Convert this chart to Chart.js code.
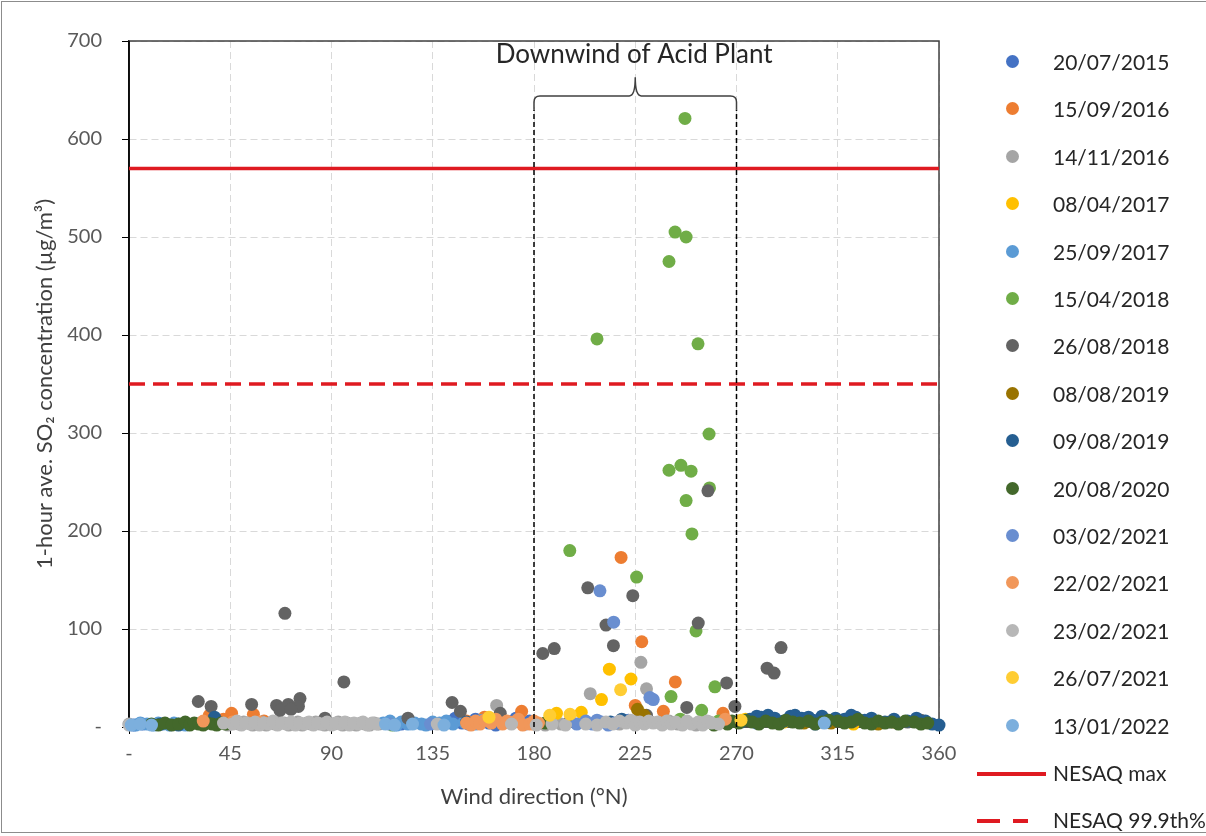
<!DOCTYPE html>
<html>
<head>
<meta charset="utf-8">
<title>SO2 vs wind direction</title>
<script src="https://cdn.jsdelivr.net/npm/chart.js@4.4.0/dist/chart.umd.min.js"></script>
<style>
  body { margin: 0; background: #fff; overflow: hidden; }
  #wrap { position: relative; width: 1206px; height: 836px; }
  #frame { position: absolute; left: 1px; top: 1px; width: 1240px; height: 832px; border: 1px solid #8c8c8c; box-sizing: border-box; pointer-events: none; }
  #legend { position: absolute; left: 970px; top: 0; width: 236px; height: 836px; font-family: Lato, sans-serif; font-size: 21px; color: #262626; }
  .item { position: absolute; left: 0; width: 236px; height: 24px; line-height: 24px; white-space: nowrap; }
  .dot { position: absolute; left: 36px; top: 5px; width: 13px; height: 13px; border-radius: 50%; }
  .txt { position: absolute; left: 83px; top: 0; }
  .item svg { position: absolute; left: 7px; top: 10px; }
</style>
</head>
<body>
<div id="wrap">
  <canvas id="chart" width="1206" height="836"></canvas>
  <div id="legend"></div>
  <div id="frame"></div>
</div>
<script>
// Series names and colours (Excel palette)
const seriesNames = ['20/07/2015', '15/09/2016', '14/11/2016', '08/04/2017', '25/09/2017',
  '15/04/2018', '26/08/2018', '08/08/2019', '09/08/2019', '20/08/2020',
  '03/02/2021', '22/02/2021', '23/02/2021', '26/07/2021', '13/01/2022'];
const seriesColors = ['#4472C4', '#ED7D31', '#A5A5A5', '#FFC000', '#5B9BD5',
  '#70AD47', '#636363', '#997300', '#255E91', '#43682B',
  '#698ED0', '#F1975A', '#B7B7B7', '#FFCD33', '#7CAFDD'];

// [wind direction (°N), 1-hour SO2 (µg/m³)] per sampling day
const d20072015 = [[2,2],[6,3],[115,4],[121,3],[142,5],[145,9],[148,4],[151,3],[154,8],[157,6],[160,4],[163,2],[166,7],[169,5],[172,9],[176,3],[178,6],[207,4],[213,3],[222,7],[244,5],[271,5],[279,4],[296,8],[305,3]];
const d15092016 = [[218.7,173],[227.9,87],[242.8,46],[174.5,16],[237.5,16],[264,14],[35.7,12],[45.6,14],[55.3,13],[225,22],[150,6],[158,10],[166,4],[180,3],[283,9],[42,8],[60,6]];
const d14112016 = [[0,3],[44,2],[47,4],[49,3],[51,5],[53,4],[55,2],[57,3],[59,5],[61,2],[63,4],[65,3],[67,5],[69,4],[71,2],[73,3],[75,5],[77,2],[79,4],[81,3],[83,5],[85,3],[87,2],[89,4],[91,3],[93,5],[95,2],[97,4],[99,3],[101,2],[103,4],[105,3],[107,2],[109,4],[111,3],[160,8],[163.4,22],[185,2],[192,3],[205,34],[218,3],[227.5,66],[230,39],[226,6],[232,5],[236,4],[240,6],[244,3],[248,5],[252,2],[258,5]];
const d08042017 = [[213.5,59],[223.1,49],[210,28],[190,14],[201,15],[117,3],[274,8],[291,5],[322,3]];
const d25092017 = [[3,2],[5,4],[8,3],[11,2],[13,4],[15,3],[18,2],[20,4],[22,3],[25,2],[113,4],[116,6],[119,2],[121,5],[124,3],[127,4],[130,3],[132,2],[135,5],[138,4],[141,6],[144,3],[149,5],[154,3],[157,7]];
const d15042018 = [[247.1,621],[242.7,505],[247.6,500],[240,475],[208,396],[252.9,391],[257.8,299],[240,262],[245.3,267],[249.8,261],[247.6,231],[250.2,197],[195.9,180],[225.6,153],[252,98],[258,244],[240.9,31],[260.4,41],[254.5,17],[245,8],[262,6],[117,2]];
const d26082018 = [[69.3,116],[95.5,46],[30.8,26],[36.5,21],[54.5,23],[65.6,22],[70.8,23],[76,29],[75.3,21],[67.1,17],[72,18],[87.1,9],[124,9],[143.6,25],[147.3,16],[165,14],[203.9,142],[223.9,134],[212,104],[253,106],[183.9,75],[189,80],[215.3,83],[265.6,45],[269.3,21],[247.9,20],[257.3,241],[283.6,60],[286.7,55],[289.8,81],[300,8],[322,6],[338,5],[346,5],[352,7],[180,5],[196,6],[230,12]];
const d08082019 = [[226,18],[229,12],[284,7],[290,5],[312,4],[333,3],[340,5],[300,4]];
const d09082019 = [[14,3],[22,2],[38,10],[150,5],[214,5],[219,8],[272,5],[276,8],[279,11],[281,10],[284,12],[287,9],[291,6],[294,11],[296,12],[299,9],[302,10],[304,7],[308,11],[310,5],[314,9],[318,8],[321,12],[323,10],[327,7],[330,9],[336,5],[340,8],[346,6],[350,9],[354,6],[357,3],[360,2]];
const d20082020 = [[10,3],[13,2],[16,4],[19,2],[22,3],[25,5],[27,2],[29,4],[31,3],[33,2],[35,4],[37,3],[39,2],[41,4],[43,3],[185,4],[260,2],[266,3],[268,6],[271,4],[274,7],[277,5],[280,3],[283,6],[286,4],[289,3],[292,7],[295,5],[298,4],[302,6],[305,3],[308,5],[311,7],[315,6],[318,4],[321,5],[324,8],[327,4],[330,3],[333,6],[336,4],[339,5],[342,3],[345,6],[349,5],[352,3],[355,4]];
const d03022021 = [[209.3,139],[215.4,107],[233,28],[231.5,30],[199,3],[203,6],[206,3],[208,7],[210,5],[213,2],[216,4],[155,4],[175,3],[134,3],[116,3]];
const d22022021 = [[150,4],[152,2],[154,6],[156,3],[158,7],[161,4],[163,8],[166,3],[168,6],[171,5],[173,8],[175,2],[178,3],[180,6],[182,4],[33,6],[46,5],[58,5],[265,8]];
const d23022021 = [[0,2],[42,4],[46,3],[48,6],[50,2],[52,4],[54,3],[56,5],[58,2],[60,4],[62,3],[64,6],[66,2],[68,4],[70,3],[72,5],[74,2],[76,4],[78,3],[80,5],[82,2],[84,4],[86,3],[88,5],[90,2],[92,4],[94,3],[96,5],[98,2],[100,4],[102,3],[104,5],[106,2],[108,4],[110,3],[137,3],[170,3],[181,2],[188,3],[194,2],[203,3],[208,2],[212,5],[215,3],[218,6],[221,4],[223,7],[225,2],[227,5],[229,3],[231,6],[233,4],[235,5],[237,2],[239,6],[241,3],[243,5],[246,2],[248,6],[250,3],[253,5],[255,2],[257,6],[259,4],[262,3]];
const d26072021 = [[218.5,38],[196,13],[187,12],[160,10],[272,7]];
const d13012022 = [[1,2],[5,3],[10,2],[114,3],[118,2],[126,3],[140,2],[309,4]];

const seriesData = [d20072015, d15092016, d14112016, d08042017, d25092017, d15042018, d26082018,
  d08082019, d09082019, d20082020, d03022021, d22022021, d23022021, d26072021, d13012022];

// NESAQ limits
const limitNames = ['NESAQ max', 'NESAQ 99.9th%'];
const limitValues = [570, 350];
const limitColor = '#DF1A21';

// downwind sector annotation
const sectorFrom = 180;
const sectorTo = 270;
const sectorTop = 630;
const sectorText = 'Downwind of Acid Plant';

const FONT = 'Lato, sans-serif';

const datasets = [];
seriesData.forEach((pts, i) => {
  datasets.push({
    label: seriesNames[i],
    data: pts.map(p => ({ x: p[0], y: p[1] })),
    backgroundColor: seriesColors[i],
    borderWidth: 0,
    pointRadius: 6.5,
    pointHoverRadius: 6.5,
    clip: false,
    order: 20 - i
  });
});

limitValues.forEach((v, i) => {
  datasets.push({
    type: 'line',
    label: limitNames[i],
    data: [{ x: 0, y: v }, { x: 360, y: v }],
    borderColor: limitColor,
    borderWidth: 3.5,
    borderDash: i === 1 ? [16, 8] : [],
    pointRadius: 0,
    order: 2
  });
});

// dashed sector edges
[sectorFrom, sectorTo].forEach(x => {
  datasets.push({
    type: 'line',
    label: '',
    data: [{ x: x, y: 0 }, { x: x, y: sectorTop }],
    borderColor: '#000',
    borderWidth: 1.5,
    borderDash: [5, 3],
    pointRadius: 0,
    clip: false,
    order: 0
  });
});

// frame around the plot area, under the points
const plotBox = {
  id: 'plotBox',
  beforeDatasetsDraw(chart) {
    const { ctx, chartArea: a } = chart;
    ctx.save();
    ctx.strokeStyle = '#404040';
    ctx.lineWidth = 1.5;
    ctx.strokeRect(a.left, a.top, a.right - a.left, a.bottom - a.top);
    ctx.strokeStyle = '#000';
    ctx.beginPath();
    ctx.moveTo(a.left, a.top);
    ctx.lineTo(a.left, a.bottom);
    ctx.stroke();
    ctx.restore();
  }
};

// curly brace over the downwind sector plus its label
const bracePlugin = {
  id: 'brace',
  afterDatasetsDraw(chart) {
    const { ctx, scales: { x, y } } = chart;
    const xl = x.getPixelForValue(sectorFrom);
    const xr = x.getPixelForValue(sectorTo);
    const xm = x.getPixelForValue((sectorFrom + sectorTo) / 2);
    const yEnd = y.getPixelForValue(sectorTop);
    const yBar = y.getPixelForValue(644);
    const yTip = y.getPixelForValue(663);
    const r = 6;
    ctx.save();
    ctx.strokeStyle = '#404040';
    ctx.lineWidth = 1.5;
    ctx.beginPath();
    ctx.moveTo(xl, yEnd);
    ctx.lineTo(xl, yBar + r);
    ctx.quadraticCurveTo(xl, yBar, xl + r, yBar);
    ctx.lineTo(xm - r, yBar);
    ctx.quadraticCurveTo(xm, yBar, xm, yTip);
    ctx.quadraticCurveTo(xm, yBar, xm + r, yBar);
    ctx.lineTo(xr - r, yBar);
    ctx.quadraticCurveTo(xr, yBar, xr, yBar + r);
    ctx.lineTo(xr, yEnd);
    ctx.stroke();

    ctx.fillStyle = '#262626';
    ctx.font = '26px ' + FONT;
    ctx.textAlign = 'center';
    ctx.textBaseline = 'middle';
    ctx.fillText(sectorText, x.getPixelForValue(224.5), y.getPixelForValue(686));
    ctx.restore();
  }
};

const tickFont = { family: FONT, size: 20 };
const titleFont = { family: FONT, size: 22 };

new Chart(document.getElementById('chart'), {
  type: 'scatter',
  data: { datasets: datasets },
  options: {
    responsive: false,
    animation: false,
    events: [],
    layout: { padding: { left: 0, top: 41, right: 267, bottom: 0 } },
    plugins: {
      legend: { display: false },
      tooltip: { enabled: false }
    },
    scales: {
      x: {
        type: 'linear',
        min: 0,
        max: 360,
        afterFit(scale) { scale.height = 109; },
        ticks: {
          stepSize: 45,
          autoSkip: false,
          maxRotation: 0,
          color: '#595959',
          font: tickFont,
          padding: 8,
          callback: v => v === 0 ? '-' : v
        },
        grid: { color: '#D9D9D9', tickColor: '#000', tickLength: 7 },
        border: { color: '#404040', width: 1.5, dash: [7, 4] },
        title: {
          display: true,
          text: 'Wind direction (°N)',
          color: '#404040',
          font: titleFont,
          padding: { top: 0, bottom: 26 }
        }
      },
      y: {
        min: 0,
        max: 700,
        afterFit(scale) { scale.width = 129; },
        ticks: {
          stepSize: 100,
          color: '#595959',
          font: tickFont,
          padding: 20,
          callback: v => v === 0 ? '-' : v
        },
        grid: { color: '#D9D9D9', tickColor: '#000', tickLength: 7 },
        border: { color: '#000', width: 1.5, dash: [7, 4] },
        title: {
          display: true,
          text: '1-hour ave. SO₂ concentration (µg/m³)',
          color: '#404040',
          font: titleFont,
          padding: { top: 32, bottom: 0 }
        }
      }
    }
  },
  plugins: [plotBox, bracePlugin]
});

// legend on the right, built from the same arrays
const legend = document.getElementById('legend');
const rowY = i => 62 + i * 47.4 - 12;
seriesNames.forEach((name, i) => {
  const row = document.createElement('div');
  row.className = 'item';
  row.style.top = rowY(i) + 'px';
  row.innerHTML = '<span class="dot" style="background:' + seriesColors[i] + '"></span><span class="txt">' + name + '</span>';
  legend.appendChild(row);
});
limitNames.forEach((name, i) => {
  const row = document.createElement('div');
  row.className = 'item';
  row.style.top = rowY(seriesNames.length + i) + 'px';
  const dash = i === 1 ? ' stroke-dasharray="23 13"' : '';
  const len = i === 1 ? 51 : 69;
  row.innerHTML = '<svg width="72" height="6"><line x1="0" y1="3" x2="' + len + '" y2="3" stroke="' + limitColor + '" stroke-width="4"' + dash + '/></svg>' +
    '<span class="txt">' + name + '</span>';
  legend.appendChild(row);
});
</script>
</body>
</html>
